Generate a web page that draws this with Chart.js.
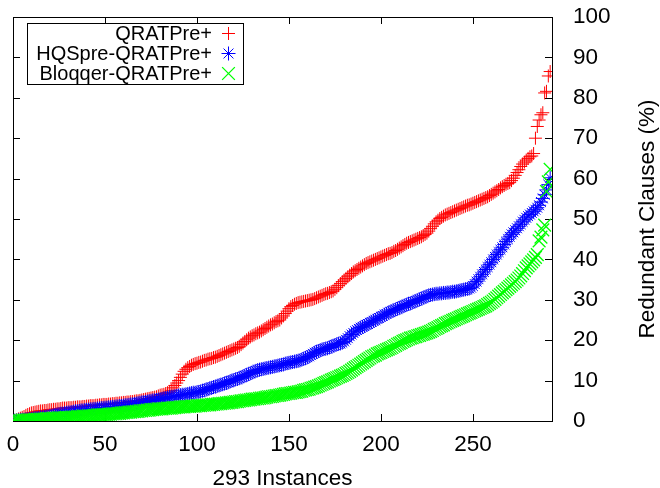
<!DOCTYPE html>
<html>
<head>
<meta charset="utf-8">
<script src="https://cdn.jsdelivr.net/npm/chart.js@4.4.0/dist/chart.umd.min.js"></script>
<style>
  html, body { margin: 0; padding: 0; background: #fff; }
</style>
</head>
<body>
<canvas id="redundantChart" width="660" height="488"></canvas>
<script>
// series names, as in the key
const seriesNames = ['QRATPre+', 'HQSpre-QRATPre+', 'Bloqqer-QRATPre+'];

// tick labels
const xTicks = [0, 50, 100, 150, 200, 250];
const yTicks = [0, 10, 20, 30, 40, 50, 60, 70, 80, 90, 100];

// redundant clauses (%) per instance, sorted ascending (293 instances)
const qratpre = [
  0, 0.1, 0.3, 0.5, 0.7, 0.9, 1.1, 1.4, 1.6, 1.8,
  2.0, 2.1, 2.2, 2.3, 2.4, 2.5, 2.5, 2.6, 2.6, 2.7,
  2.8, 2.8, 2.9, 2.9, 3.0, 3.0, 3.1, 3.2, 3.2, 3.2,
  3.3, 3.3, 3.3, 3.4, 3.4, 3.5, 3.5, 3.5, 3.6, 3.6,
  3.7, 3.7, 3.8, 3.8, 3.8, 3.9, 3.9, 4.0, 4.0, 4.1,
  4.1, 4.1, 4.2, 4.2, 4.3, 4.3, 4.4, 4.4, 4.5, 4.5,
  4.6, 4.6, 4.7, 4.7, 4.8, 4.8, 4.9, 5.0, 5.0, 5.1,
  5.2, 5.3, 5.4, 5.5, 5.6, 5.7, 5.8, 5.9, 6.0, 6.2,
  6.4, 6.5, 6.6, 6.8, 7.0, 7.2, 7.6, 8.2, 8.8, 9.4,
  10.0, 10.8, 11.6, 12.3, 12.8, 13.2, 13.5, 13.8, 14.0, 14.2,
  14.3, 14.5, 14.6, 14.8, 15.0, 15.1, 15.3, 15.4, 15.5, 15.7,
  15.8, 16.0, 16.2, 16.4, 16.6, 16.8, 17.0, 17.2, 17.4, 17.6,
  17.8, 18.0, 18.2, 18.5, 18.9, 19.3, 19.7, 20.1, 20.5, 20.8,
  21.1, 21.3, 21.6, 21.8, 22.0, 22.3, 22.6, 22.9, 23.2, 23.5,
  23.8, 24.0, 24.3, 24.6, 24.8, 25.0, 25.5, 26.0, 26.6, 27.2,
  27.8, 28.3, 28.6, 28.9, 29.1, 29.3, 29.4, 29.5, 29.6, 29.7,
  29.8, 29.9, 30.0, 30.1, 30.3, 30.5, 30.7, 30.9, 31.1, 31.3,
  31.5, 31.6, 31.8, 32.0, 32.2, 32.6, 33.0, 33.5, 34.0, 34.5,
  34.9, 35.3, 35.7, 36.1, 36.5, 36.9, 37.2, 37.5, 37.8, 38.1,
  38.4, 38.7, 39.0, 39.2, 39.4, 39.6, 39.8, 40.0, 40.2, 40.4,
  40.6, 40.8, 41.0, 41.2, 41.4, 41.5, 41.7, 42.0, 42.2, 42.5,
  42.8, 43.1, 43.4, 43.7, 44.0, 44.2, 44.4, 44.6, 44.8, 45.0,
  45.2, 45.4, 45.6, 45.9, 46.2, 46.5, 47.0, 47.6, 48.2, 48.8,
  49.3, 49.7, 50.1, 50.4, 50.7, 51.0, 51.2, 51.4, 51.6, 51.8,
  52.0, 52.2, 52.4, 52.6, 52.8, 53.0, 53.2, 53.4, 53.5, 53.7,
  53.9, 54.1, 54.3, 54.5, 54.7, 54.9, 55.1, 55.3, 55.5, 55.8,
  56.1, 56.4, 56.7, 57.0, 57.3, 57.7, 58.0, 58.3, 58.6, 58.8,
  59.0, 59.5, 60.1, 60.8, 61.5, 62.2, 63.0, 63.6, 64.1, 64.6,
  65.0, 65.4, 65.6, 66.2, 70.0, 72.9, 74.5, 75.8, 76.3, 81.2,
  81.6, 85.4, 86.5
];

const hqspre = [
  0, 0.1, 0.1, 0.2, 0.2, 0.3, 0.3, 0.4, 0.4, 0.5,
  0.5, 0.6, 0.7, 0.7, 0.8, 0.9, 0.9, 1.0, 1.1, 1.1,
  1.2, 1.3, 1.4, 1.5, 1.6, 1.7, 1.8, 1.8, 1.9, 2.0,
  2.1, 2.1, 2.2, 2.3, 2.4, 2.4, 2.5, 2.6, 2.6, 2.7,
  2.8, 2.8, 2.9, 2.9, 3.0, 3.0, 3.1, 3.1, 3.2, 3.2,
  3.3, 3.3, 3.4, 3.4, 3.5, 3.5, 3.6, 3.6, 3.7, 3.7,
  3.8, 3.9, 3.9, 4.0, 4.1, 4.1, 4.2, 4.3, 4.4, 4.5,
  4.6, 4.6, 4.7, 4.8, 4.9, 5.0, 5.1, 5.1, 5.2, 5.3,
  5.4, 5.5, 5.6, 5.7, 5.8, 5.9, 6.0, 6.0, 6.1, 6.2,
  6.3, 6.4, 6.5, 6.5, 6.6, 6.7, 6.8, 6.9, 7.0, 7.0,
  7.1, 7.2, 7.3, 7.5, 7.6, 7.8, 7.9, 8.1, 8.2, 8.4,
  8.5, 8.7, 8.8, 9.0, 9.1, 9.3, 9.4, 9.6, 9.8, 10.0,
  10.1, 10.3, 10.4, 10.6, 10.8, 11.0, 11.2, 11.4, 11.6, 11.8,
  12.0, 12.2, 12.4, 12.6, 12.7, 12.8, 12.9, 13.0, 13.1, 13.2,
  13.3, 13.4, 13.5, 13.6, 13.7, 13.8, 13.9, 14.0, 14.2, 14.3,
  14.4, 14.5, 14.6, 14.7, 14.8, 14.9, 15.0, 15.2, 15.4, 15.6,
  15.8, 16.0, 16.3, 16.6, 16.9, 17.1, 17.3, 17.5, 17.7, 17.8,
  17.9, 18.0, 18.2, 18.4, 18.6, 18.8, 19.0, 19.1, 19.2, 19.4,
  19.7, 20.1, 20.5, 21.0, 21.4, 21.8, 22.2, 22.5, 22.8, 23.1,
  23.3, 23.5, 23.8, 24.0, 24.3, 24.5, 24.8, 25.0, 25.3, 25.5,
  25.8, 26.0, 26.3, 26.5, 26.8, 27.0, 27.2, 27.4, 27.6, 27.8,
  28.0, 28.2, 28.4, 28.6, 28.8, 29.0, 29.1, 29.3, 29.5, 29.7,
  29.9, 30.1, 30.3, 30.5, 30.7, 30.9, 31.1, 31.2, 31.3, 31.4,
  31.5, 31.5, 31.6, 31.6, 31.7, 31.7, 31.8, 31.8, 31.9, 32.0,
  32.0, 32.1, 32.2, 32.3, 32.4, 32.5, 32.6, 32.7, 32.8, 33.0,
  33.4, 33.9, 34.5, 35.1, 35.7, 36.3, 36.9, 37.5, 38.1, 38.7,
  39.3, 40.0, 40.6, 41.2, 41.8, 42.4, 43.0, 43.7, 44.4, 45.0,
  45.6, 46.2, 46.7, 47.2, 47.7, 48.2, 48.7, 49.3, 49.8, 50.3,
  50.7, 51.1, 51.5, 51.9, 52.3, 52.8, 53.4, 54.2, 55.1, 56.0,
  57.2, 58.5, 60.2
];

const bloqqer = [
  0, 0.0, 0.1, 0.1, 0.1, 0.2, 0.2, 0.2, 0.3, 0.3,
  0.3, 0.3, 0.4, 0.4, 0.4, 0.5, 0.5, 0.5, 0.6, 0.6,
  0.6, 0.6, 0.7, 0.7, 0.7, 0.8, 0.8, 0.8, 0.8, 0.9,
  0.9, 0.9, 1.0, 1.0, 1.0, 1.1, 1.1, 1.1, 1.2, 1.2,
  1.2, 1.3, 1.3, 1.3, 1.4, 1.4, 1.5, 1.5, 1.5, 1.6,
  1.6, 1.6, 1.7, 1.7, 1.8, 1.8, 1.8, 1.9, 1.9, 2.0,
  2.0, 2.1, 2.1, 2.2, 2.2, 2.3, 2.3, 2.4, 2.4, 2.5,
  2.5, 2.6, 2.6, 2.7, 2.7, 2.8, 2.8, 2.9, 2.9, 3.0,
  3.0, 3.0, 3.1, 3.1, 3.2, 3.2, 3.2, 3.3, 3.3, 3.4,
  3.4, 3.5, 3.5, 3.5, 3.6, 3.6, 3.6, 3.7, 3.7, 3.7,
  3.8, 3.8, 3.8, 3.9, 3.9, 4.0, 4.0, 4.0, 4.1, 4.1,
  4.2, 4.2, 4.3, 4.3, 4.4, 4.4, 4.5, 4.5, 4.6, 4.6,
  4.7, 4.8, 4.8, 4.9, 5.0, 5.0, 5.1, 5.2, 5.2, 5.3,
  5.4, 5.4, 5.5, 5.5, 5.6, 5.7, 5.7, 5.8, 5.9, 6.0,
  6.0, 6.1, 6.2, 6.3, 6.3, 6.4, 6.5, 6.6, 6.7, 6.8,
  6.8, 6.9, 7.0, 7.1, 7.1, 7.2, 7.3, 7.4, 7.6, 7.7,
  7.8, 7.9, 8.1, 8.2, 8.4, 8.5, 8.7, 8.9, 9.1, 9.3,
  9.5, 9.7, 9.9, 10.1, 10.3, 10.5, 10.7, 10.9, 11.1, 11.3,
  11.5, 11.8, 12.0, 12.3, 12.6, 12.9, 13.2, 13.5, 13.8, 14.1,
  14.4, 14.7, 15.0, 15.3, 15.6, 15.9, 16.1, 16.3, 16.6, 16.8,
  17.0, 17.2, 17.4, 17.6, 17.8, 18.0, 18.2, 18.5, 18.7, 19.0,
  19.2, 19.4, 19.7, 19.9, 20.1, 20.3, 20.5, 20.6, 20.8, 20.9,
  21.1, 21.2, 21.4, 21.5, 21.7, 21.8, 22.0, 22.2, 22.4, 22.7,
  22.9, 23.1, 23.4, 23.6, 23.8, 24.1, 24.3, 24.5, 24.7, 24.9,
  25.1, 25.3, 25.5, 25.7, 25.9, 26.1, 26.3, 26.5, 26.7, 26.9,
  27.1, 27.3, 27.5, 27.7, 27.9, 28.1, 28.3, 28.5, 28.8, 29.1,
  29.4, 29.7, 30.1, 30.5, 30.9, 31.3, 31.7, 32.1, 32.5, 32.9,
  33.3, 33.7, 34.1, 34.5, 34.9, 35.4, 35.9, 36.5, 37.2, 37.9,
  38.4, 38.9, 39.4, 39.9, 40.5, 41.2, 44.6, 45.5, 47.3, 48.5,
  56.8, 59.2, 62.3
];

const fontFamily = '"Liberation Sans", Arial, Helvetica, sans-serif';
const colors = ['#ff0000', '#0000ff', '#00ff00'];
const styles = ['cross', 'star', 'crossRot'];
const radii = [6.5, 7, 9];
const lineWidths = [1, 1, 1.3];

function toPoints(values) {
    return values.map((v, i) => ({ x: i, y: v }));
}

// gnuplot-like frame, inward ticks on all four sides, key box and right-hand y title
const gnuplotFrame = {
    id: 'gnuplotFrame',
    beforeDatasetsDraw(chart) {
        const { ctx, chartArea: a, scales } = chart;
        const tickLen = 7;
        ctx.save();
        ctx.strokeStyle = '#000';
        ctx.lineWidth = 1;
        ctx.beginPath();
        xTicks.forEach(v => {
            const px = Math.round(scales.x.getPixelForValue(v)) + 0.5;
            ctx.moveTo(px, a.bottom);
            ctx.lineTo(px, a.bottom - tickLen);
            ctx.moveTo(px, a.top);
            ctx.lineTo(px, a.top + tickLen);
        });
        yTicks.forEach(v => {
            const py = Math.round(scales.y.getPixelForValue(v)) + 0.5;
            ctx.moveTo(a.left, py);
            ctx.lineTo(a.left + tickLen, py);
            ctx.moveTo(a.right, py);
            ctx.lineTo(a.right - tickLen, py);
        });
        ctx.stroke();
        ctx.strokeRect(a.left + 0.5, a.top + 0.5, a.right - a.left, a.bottom - a.top);
        ctx.restore();
    },
    afterDatasetsDraw(chart) {
        const ctx = chart.ctx;
        ctx.save();
        // key box
        ctx.strokeStyle = '#000';
        ctx.lineWidth = 1;
        ctx.strokeRect(27.5, 23.5, 216, 61);
        ctx.font = '20px ' + fontFamily;
        ctx.fillStyle = '#000';
        ctx.textAlign = 'right';
        ctx.textBaseline = 'middle';
        seriesNames.forEach((name, i) => {
            const y = 33.5 + i * 20;
            ctx.fillText(name, 212, y + 1);
            ctx.strokeStyle = colors[i];
            ctx.lineWidth = lineWidths[i];
            Chart.helpers.drawPoint(ctx, { pointStyle: styles[i], radius: radii[i], borderWidth: lineWidths[i], rotation: 0 }, 228.5, y);
        });
        // y title on the right, reading upwards
        ctx.translate(648, 219);
        ctx.rotate(-Math.PI / 2);
        ctx.font = '22.5px ' + fontFamily;
        ctx.textAlign = 'center';
        ctx.fillStyle = '#000';
        ctx.fillText('Redundant Clauses (%)', 0, 0);
        ctx.restore();
    }
};

const ctx = document.getElementById('redundantChart').getContext('2d');
const datasets = [qratpre, hqspre, bloqqer].map((values, i) => ({
    label: seriesNames[i],
    data: toPoints(values),
    showLine: false,
    pointStyle: styles[i],
    pointRadius: radii[i],
    pointHoverRadius: radii[i],
    pointBorderWidth: lineWidths[i],
    borderColor: colors[i],
    backgroundColor: colors[i],
    order: 3 - i   // later series drawn on top, like gnuplot
}));

new Chart(ctx, {
    type: 'scatter',
    data: { datasets: datasets },
    options: {
        responsive: false,
        animation: false,
        devicePixelRatio: 1,
        layout: { padding: { left: 13, top: 17, right: 0, bottom: 0 } },
        plugins: {
            legend: { display: false },
            tooltip: { enabled: false }
        },
        scales: {
            x: {
                type: 'linear',
                position: 'bottom',
                min: 0,
                max: 293,
                afterBuildTicks: scale => { scale.ticks = xTicks.map(v => ({ value: v })); },
                afterFit: scale => {
                    scale.height = 67;
                    scale.paddingLeft = 0;
                    scale.paddingRight = 0;
                },
                grid: { display: false, drawTicks: false },
                border: { display: false },
                ticks: {
                    padding: 10,
                    color: '#000',
                    font: { family: fontFamily, size: 22.5 }
                },
                title: {
                    display: true,
                    text: '293 Instances',
                    color: '#000',
                    padding: 0,
                    font: { family: fontFamily, size: 22.5, lineHeight: 0.85 }
                }
            },
            y: {
                type: 'linear',
                position: 'right',
                min: 0,
                max: 100,
                afterBuildTicks: scale => { scale.ticks = yTicks.map(v => ({ value: v })); },
                afterFit: scale => {
                    scale.width = 108;
                    scale.paddingTop = 0;
                    scale.paddingBottom = 0;
                },
                grid: { display: false, drawTicks: false },
                border: { display: false },
                ticks: {
                    padding: 21,
                    color: '#000',
                    font: { family: fontFamily, size: 22.5 }
                }
            }
        }
    },
    plugins: [gnuplotFrame]
});
</script>
</body>
</html>
